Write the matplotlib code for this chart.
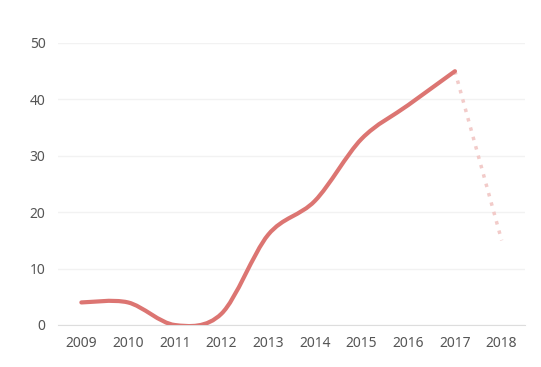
import numpy as np
import matplotlib.pyplot as plt
from matplotlib.path import Path
from matplotlib.patches import PathPatch

years = ['2009', '2010', '2011', '2012', '2013', '2014', '2015', '2016', '2017', '2018']
values = [4, 4, 0, 2, 16, 22, 33, 39, 45]   # solid, smoothed
forecast = [45, 15]                          # 2017 -> 2018, dotted

plt.rcParams['font.family'] = ['Noto Sans', 'DejaVu Sans']

fig = plt.figure(figsize=(5.41, 3.67), dpi=100)
ax = fig.add_axes([58 / 541, 42 / 367, 467 / 541, 282 / 367])

# smooth curve via cubic bezier segments (catmull-rom style control points)
x = np.arange(len(values), dtype=float)
y = np.array(values, dtype=float)
k = 0.16
verts = [(x[0], y[0])]
codes = [Path.MOVETO]
for i in range(len(x) - 1):
    p0 = i - 1 if i > 0 else i
    p3 = i + 2 if i + 2 < len(x) else i + 1
    c1 = (x[i] + k * (x[i + 1] - x[p0]), y[i] + k * (y[i + 1] - y[p0]))
    c2 = (x[i + 1] - k * (x[p3] - x[i]), y[i + 1] - k * (y[p3] - y[i]))
    verts += [c1, c2, (x[i + 1], y[i + 1])]
    codes += [Path.CURVE4] * 3
ax.add_patch(PathPatch(Path(verts, codes), fill=False, edgecolor='#dc7572',
                       lw=3, capstyle='round', joinstyle='round', zorder=3))

ax.plot([8, 9], forecast, color='#f2cbc9', lw=2.5, ls=(0, (1, 1.8)), zorder=2)

ax.set_xlim(-0.5, 9.5)
ax.set_ylim(0, 50)
ax.set_xticks(range(len(years)))
ax.set_xticklabels(years)
ax.set_yticks([0, 10, 20, 30, 40, 50])
ax.tick_params(length=0, labelsize=10, labelcolor='#555555', pad=9)
ax.tick_params(axis='x', pad=8)
ax.grid(axis='y', color='#f2f2f2', lw=1)
ax.set_axisbelow(True)
for s in ['top', 'right', 'left']:
    ax.spines[s].set_visible(False)
ax.spines['bottom'].set_color('#dddddd')

fig.savefig('out.png', dpi=100)
